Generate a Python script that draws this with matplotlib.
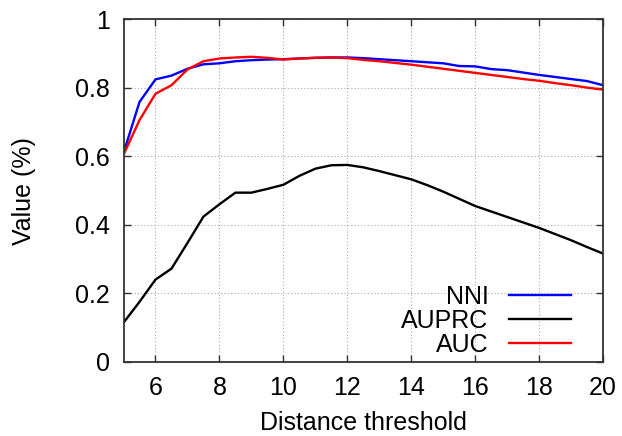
import numpy as np
import matplotlib.pyplot as plt

plt.rcParams['font.family'] = ['Liberation Sans', 'DejaVu Sans']

# distance threshold, step 0.5
dist = [5, 5.5, 6, 6.5, 7, 7.5, 8, 8.5, 9, 9.5, 10, 10.5, 11, 11.5, 12,
        12.5, 13, 13.5, 14, 14.5, 15, 15.5, 16, 16.5, 17, 17.5, 18, 18.5,
        19, 19.5, 20]

nni = [0.610, 0.759, 0.825, 0.836, 0.856, 0.869, 0.872, 0.878, 0.881, 0.883,
       0.884, 0.886, 0.888, 0.889, 0.889, 0.887, 0.884, 0.881, 0.878, 0.875,
       0.872, 0.864, 0.863, 0.855, 0.852, 0.845, 0.838, 0.832, 0.826, 0.820,
       0.808]

auprc = [0.114, 0.175, 0.240, 0.272, 0.347, 0.424, 0.460, 0.494, 0.494, 0.505,
         0.517, 0.543, 0.564, 0.574, 0.575, 0.568, 0.557, 0.545, 0.533, 0.516,
         0.497, 0.476, 0.455, 0.439, 0.423, 0.407, 0.391, 0.373, 0.355, 0.335,
         0.316]

auc = [0.605, 0.706, 0.783, 0.808, 0.854, 0.878, 0.886, 0.889, 0.891, 0.888,
       0.883, 0.886, 0.888, 0.889, 0.887, 0.882, 0.878, 0.873, 0.868, 0.862,
       0.856, 0.850, 0.844, 0.838, 0.832, 0.826, 0.821, 0.814, 0.808, 0.801,
       0.795]

fig = plt.figure(figsize=(6.22, 4.36), dpi=100)
ax = fig.add_axes([0.1986, 0.1704, 0.7709, 0.7849])

ax.plot(dist, nni, color='#0000ff', lw=1.7, label='NNI')
ax.plot(dist, auprc, color='black', lw=1.7, label='AUPRC')
ax.plot(dist, auc, color='#ff0000', lw=1.7, label='AUC')

ax.set_xlim(5, 20)
ax.set_ylim(0, 1)
ax.set_xticks(range(6, 21, 2))
ax.set_yticks([0, 0.2, 0.4, 0.6, 0.8, 1])
ax.set_yticklabels(['0', '0.2', '0.4', '0.6', '0.8', '1'])
ax.tick_params(direction='in', top=True, right=True, length=5, width=1,
               labelsize=18, pad=10, color='#333333')
ax.grid(True, linestyle=(0, (1, 2)), color='#aaaaaa', lw=0.8)
ax.set_axisbelow(True)
for s in ax.spines.values():
    s.set_linewidth(1.3)
    s.set_color('#333333')

ax.set_xlabel('Distance threshold', fontsize=18, labelpad=8)
ax.set_ylabel('Value (%)', fontsize=18, labelpad=28)

leg = ax.legend(loc='lower right', bbox_to_anchor=(0.97, -0.037),
                frameon=False, markerfirst=False, fontsize=18,
                handlelength=2.5, handletextpad=0.8, labelspacing=0.0,
                borderaxespad=0.3)

fig.savefig('out.png', dpi=100)
